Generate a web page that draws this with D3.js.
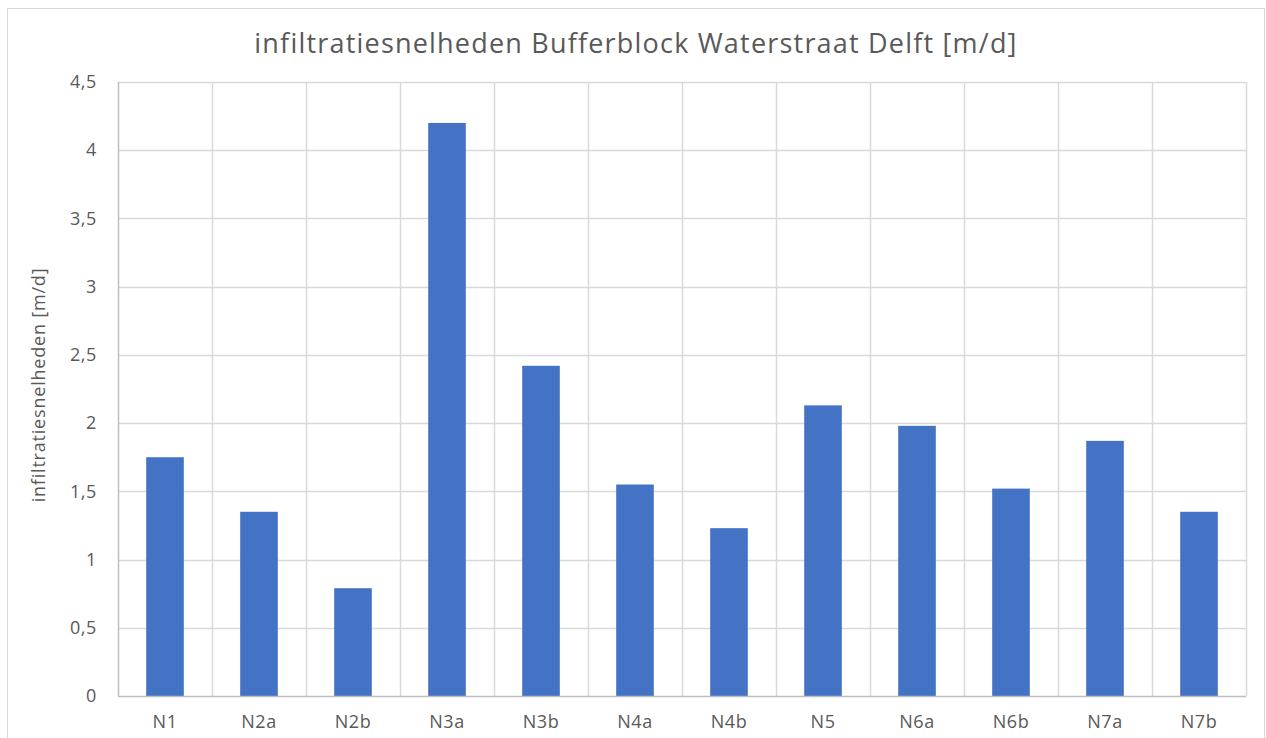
<!DOCTYPE html>
<html>
<head>
<meta charset="utf-8">
<script src="https://cdn.jsdelivr.net/npm/d3@7"></script>
<style>
    body { margin: 0; background: #fff; }
    svg { display: block; font-family: "Open Sans", "Noto Sans", sans-serif; }
    .tick text { fill: #595959; font-size: 18px; font-family: "Open Sans", "Noto Sans", sans-serif; letter-spacing: 0.6px; }
</style>
</head>
<body>
<svg class="chart" width="1266" height="738"></svg>
<script>
var categories = ["N1", "N2a", "N2b", "N3a", "N3b", "N4a", "N4b", "N5", "N6a", "N6b", "N7a", "N7b"];
var rates = [1.75, 1.35, 0.79, 4.2, 2.42, 1.55, 1.23, 2.13, 1.98, 1.52, 1.87, 1.35];
var yTicks = [0, 0.5, 1, 1.5, 2, 2.5, 3, 3.5, 4, 4.5];

var plot = { left: 118, right: 1246, top: 82, bottom: 696 };

var svg = d3.select("svg.chart");

// chart frame
svg.append("rect")
    .attr("x", 7.5)
    .attr("y", 8.5)
    .attr("width", 1257)
    .attr("height", 760)
    .attr("fill", "#fff")
    .attr("stroke", "#d9d9d9");

var xCell = d3.scaleBand()
    .domain(categories)
    .range([plot.left, plot.right])
    .padding(0);

var xBar = d3.scaleBand()
    .domain(categories)
    .range([plot.left, plot.right])
    .paddingInner(0.6)
    .paddingOuter(0.3);

var y = d3.scaleLinear()
    .domain([0, 4.5])
    .range([plot.bottom, plot.top]);

// horizontal gridlines
svg.append("g")
    .selectAll("line")
    .data(yTicks.slice(1))
    .enter().append("line")
    .attr("x1", plot.left)
    .attr("x2", plot.right)
    .attr("y1", function (d) { return Math.round(y(d)) + 0.5; })
    .attr("y2", function (d) { return Math.round(y(d)) + 0.5; })
    .attr("stroke", "#d9d9d9")
    .attr("stroke-width", 1.5);

// vertical gridlines at category boundaries
var bounds = categories.slice(1).map(function (c) { return xCell(c); }).concat([plot.right]);
svg.append("g")
    .selectAll("line")
    .data(bounds)
    .enter().append("line")
    .attr("x1", function (d) { return Math.round(d) + 0.5; })
    .attr("x2", function (d) { return Math.round(d) + 0.5; })
    .attr("y1", plot.top)
    .attr("y2", plot.bottom)
    .attr("stroke", "#d9d9d9")
    .attr("stroke-width", 1.5);

// bars
svg.append("g")
    .selectAll("rect")
    .data(rates)
    .enter().append("rect")
    .attr("x", function (d, i) { return xBar(categories[i]); })
    .attr("width", xBar.bandwidth())
    .attr("y", function (d) { return y(d); })
    .attr("height", function (d) { return plot.bottom - y(d); })
    .attr("fill", "#4472c4");

// axes
var fmt = function (d) { return String(d).replace(".", ","); };

var yAxis = svg.append("g")
    .attr("transform", "translate(" + plot.left + ",0)")
    .call(d3.axisLeft(y).tickValues(yTicks).tickFormat(fmt).tickSize(0).tickPadding(21));
yAxis.select(".domain").remove();

var xAxis = svg.append("g")
    .attr("transform", "translate(0," + plot.bottom + ")")
    .call(d3.axisBottom(xCell).tickSize(0).tickPadding(19));
xAxis.select(".domain").remove();

svg.append("line")
    .attr("x1", plot.left + 0.5).attr("x2", plot.left + 0.5)
    .attr("y1", plot.top).attr("y2", plot.bottom)
    .attr("stroke", "#bfbfbf").attr("stroke-width", 1.5);
svg.append("line")
    .attr("x1", plot.left).attr("x2", plot.right)
    .attr("y1", plot.bottom + 0.5).attr("y2", plot.bottom + 0.5)
    .attr("stroke", "#bfbfbf").attr("stroke-width", 1.5);

// titles
svg.append("text")
    .attr("x", 636)
    .attr("y", 53)
    .attr("text-anchor", "middle")
    .attr("fill", "#595959")
    .style("font-size", "27px")
    .style("letter-spacing", "1.2px")
    .text("infiltratiesnelheden Bufferblock Waterstraat Delft [m/d]");

svg.append("text")
    .attr("transform", "translate(45,385) rotate(-90)")
    .attr("text-anchor", "middle")
    .attr("fill", "#595959")
    .style("font-size", "18px")
    .style("letter-spacing", "0.8px")
    .text("infiltratiesnelheden [m/d]");
</script>
</body>
</html>
